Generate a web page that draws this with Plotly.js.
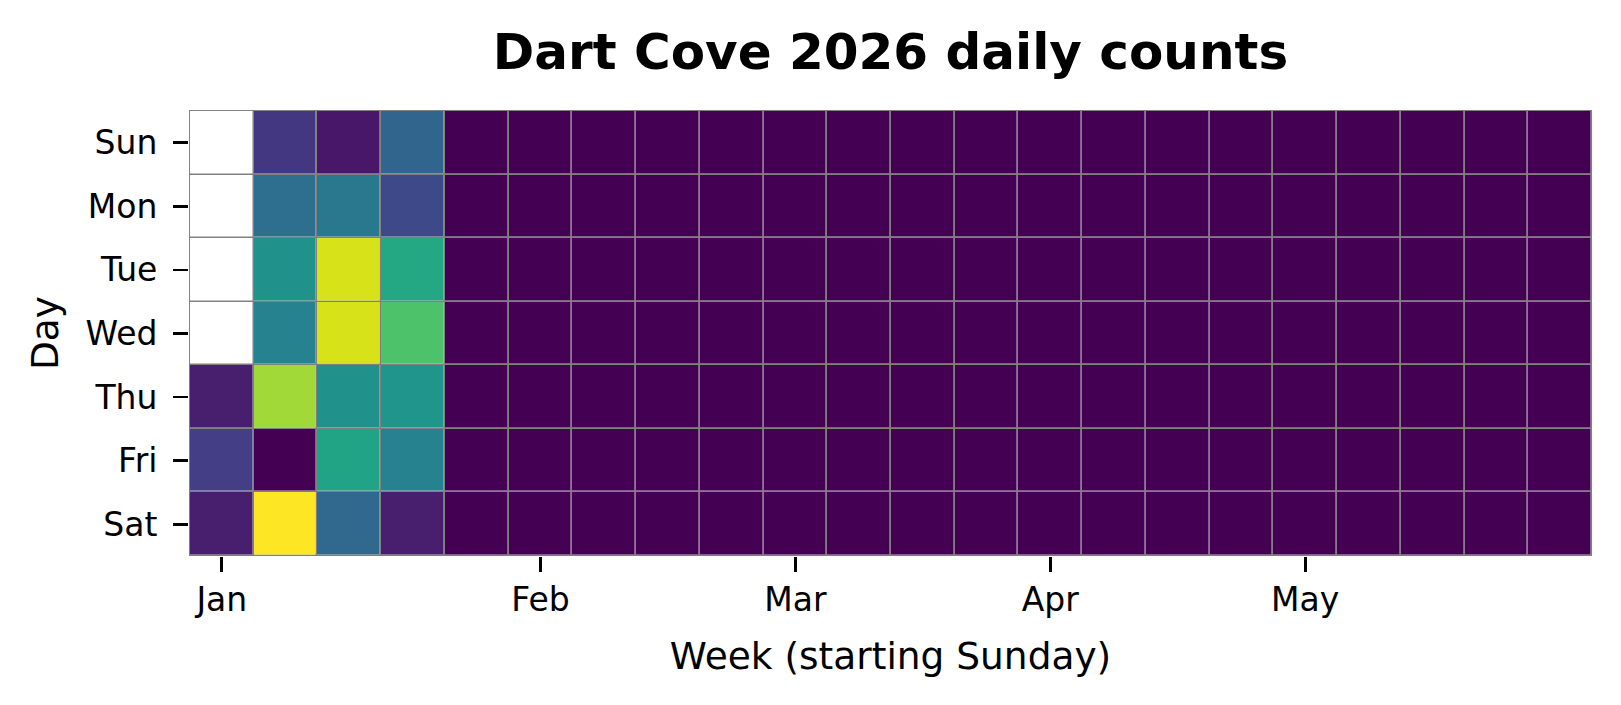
<!DOCTYPE html>
<html>
<head>
<meta charset="utf-8">
<script src="https://cdn.plot.ly/plotly-3.0.1.min.js"></script>
<style>
  html, body { margin: 0; padding: 0; background: #ffffff; }
  #chart { width: 1621px; height: 705px; }
</style>
</head>
<body>
<div id="chart"></div>
<script>
// Week index (0 = week starting Sun 28 Dec 2025), one column per week
const weeks = [0,1,2,3,4,5,6,7,8,9,10,11,12,13,14,15,16,17,18,19,20,21];
const dayLabels = ['Sun','Mon','Tue','Wed','Thu','Fri','Sat'];

// Daily counts per weekday row (null = before 1 Jan 2026)
const sunCounts = [null, 8, 3, 16, 0,0,0,0,0,0,0,0,0,0,0,0,0,0,0,0,0,0];
const monCounts = [null,18,20,11, 0,0,0,0,0,0,0,0,0,0,0,0,0,0,0,0,0,0];
const tueCounts = [null,25,47,30, 0,0,0,0,0,0,0,0,0,0,0,0,0,0,0,0,0,0];
const wedCounts = [null,22,47,36, 0,0,0,0,0,0,0,0,0,0,0,0,0,0,0,0,0,0];
const thuCounts = [   4,43,25,26, 0,0,0,0,0,0,0,0,0,0,0,0,0,0,0,0,0,0];
const friCounts = [   9, 0,29,22, 0,0,0,0,0,0,0,0,0,0,0,0,0,0,0,0,0,0];
const satCounts = [   4,50,17, 4, 0,0,0,0,0,0,0,0,0,0,0,0,0,0,0,0,0,0];

// Month tick labels at the week containing the 1st of each month
const monthTickWeeks = [0, 5, 9, 13, 17];
const monthLabels = ['Jan','Feb','Mar','Apr','May'];

const zData = [sunCounts, monCounts, tueCounts, wedCounts, thuCounts, friCounts, satCounts];
const zMask = zData.map(row => row.map(() => 1));

const FONT = 'DejaVu Sans, sans-serif';

const traces = [
  {
    type: 'heatmap',
    x: weeks, y: dayLabels, z: zMask,
    colorscale: [[0,'#ffffff'],[1,'#ffffff']],
    showscale: false, xgap: 1.5, ygap: 1.5, hoverinfo: 'skip'
  },
  {
    type: 'heatmap',
    x: weeks, y: dayLabels, z: zData,
    colorscale: 'Viridis',
    zmin: 0, zmax: 50,
    showscale: false, xgap: 1.5, ygap: 1.5
  }
];

const layout = {
  width: 1621, height: 705,
  margin: { l: 189.3, r: 28.8, t: 110.3, b: 149 },
  paper_bgcolor: '#ffffff',
  plot_bgcolor: '#808080',
  showlegend: false,
  font: { family: FONT, color: '#000000', size: 33 },
  title: {
    text: '<b>Dart Cove 2026 daily counts</b>',
    font: { family: FONT, size: 50, color: '#000000' },
    x: 0.5, xref: 'paper', xanchor: 'center',
    y: 1 - 51/705, yref: 'container', yanchor: 'middle'
  },
  xaxis: {
    range: [-0.515, 21.5],
    tickmode: 'array', tickvals: monthTickWeeks, ticktext: monthLabels,
    ticks: 'outside', ticklen: 15, tickwidth: 2.7, tickcolor: '#000000',
    tickfont: { family: FONT, size: 33, color: '#000000' },
    ticklabelstandoff: -1,
    showgrid: false, zeroline: false, showline: false,
    title: { text: 'Week (starting Sunday)', font: { family: FONT, size: 37.5, color: '#000000' }, standoff: 25 }
  },
  yaxis: {
    range: [6.5, -0.515],
    type: 'category',
    ticks: 'outside', ticklen: 15, tickwidth: 2.7, tickcolor: '#000000',
    tickfont: { family: FONT, size: 33, color: '#000000' },
    ticklabelstandoff: 9,
    showgrid: false, zeroline: false, showline: false,
    title: { text: 'Day', font: { family: FONT, size: 37.5, color: '#000000' }, standoff: 15 }
  }
};

Plotly.newPlot('chart', traces, layout, { displayModeBar: false, staticPlot: true });
</script>
</body>
</html>
